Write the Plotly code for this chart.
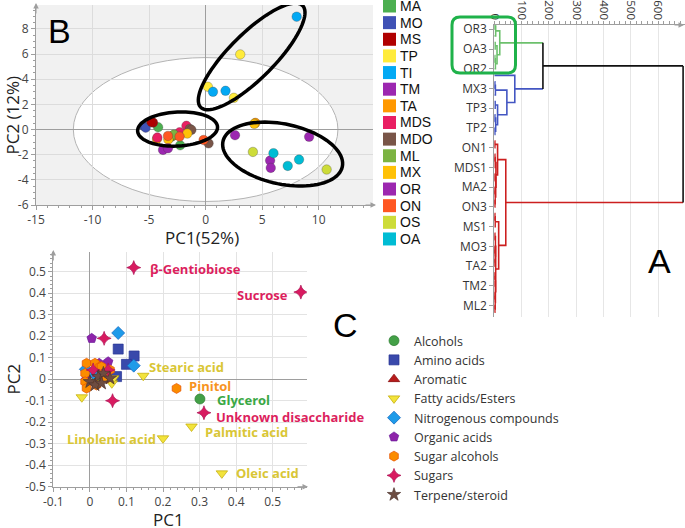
import numpy as np
import plotly.graph_objects as go

W, H = 685, 528

# ---------------- Panel B: PCA scores ----------------
b_groups = ["MA", "MO", "MS", "TP", "TI", "TM", "TA", "MDS", "MDO", "ML", "MX", "OR", "ON", "OS", "OA"]
b_colors = ["#4caf50", "#3f51b5", "#b00000", "#ffeb3b", "#03a9f4", "#9c27b0", "#ff9800", "#e91e63",
            "#795548", "#7cb342", "#ffc107", "#9c27b0", "#ff5722", "#cddc39", "#00bcd4"]
b_pc1 = [[-4.2, -2.25, -3.0], [-5.5, -5.3], [-4.65, -4.8], [3.06, 0.2, 2.5], [8.05, 0.65, 1.76],
         [5.7, 5.76, 2.6], [4.4, -2.9, -4.3], [-4.27, -2.3, -1.7], [-1.4, -1.26, 0.26], [-3.18, -2.8],
         [-1.62, 4.3, -3.3], [9.15, -3.77, -3.33], [-3.33, -2.3, -0.18], [4.18, 10.7], [6.0, 7.26, 8.26]]
b_pc2 = [[0.18, -1.25, -0.55], [0.3, 0.15], [0.55, 0.6], [5.97, 3.4, 2.52], [8.97, 3.0, 3.08],
         [-2.47, -3.05, -0.45], [0.53, -0.5, -0.75], [-0.64, -0.22, 0.3], [0.05, -0.03, -1.1], [-0.64, -0.4],
         [-0.32, 0.45, -0.8], [-0.58, -1.62, -1.49], [-0.51, -0.56, -0.83], [-1.78, -3.18], [-1.88, -2.89, -2.39]]
b_xticks = [-15, -10, -5, 0, 5, 10]
b_yticks = [-6, -4, -2, 0, 2, 4, 6, 8]

# ---------------- Panel C: PCA loadings ----------------
c_classes = ["Alcohols", "Amino acids", "Aromatic", "Fatty acids/Esters", "Nitrogenous compounds",
             "Organic acids", "Sugar alcohols", "Sugars", "Terpene/steroid"]
c_symbols = ["circle", "square", "triangle-up", "triangle-down", "diamond", "pentagon", "hexagon",
             "star-diamond", "star"]
c_colors = ["#43a047", "#3949ab", "#b71c1c", "#f2e33c", "#1e9be9", "#8e24aa", "#fb8c00", "#d81b60", "#6d4c41"]
c_lines = ["#2e7d32", "#283593", "#7f0000", "#c0a800", "#1565c0", "#6a1b9a", "#e65100", "#ad1457", "#4e342e"]
c_pc1 = [
    [0.301, 0.02, 0.035],
    [0.0775, 0.121, 0.10, 0.073, 0.03],
    [0.01, 0.04],
    [0.146, 0.2, 0.278, 0.361, -0.022, 0.06, 0.064],
    [0.0775, 0.12, -0.011, 0.01],
    [0.005, 0.05, 0.0255, -0.011],
    [0.237, -0.009, 0.014, 0.028, -0.013, -0.013, -0.009, 0.046, 0.055, 0.032, 0.018],
    [0.12, 0.577, 0.312, 0.039, 0.062, 0.009, 0.05],
    [0.0, 0.023, 0.037, 0.055, 0.014, 0.032],
]
c_pc2 = [
    [-0.092, 0.0, 0.03],
    [0.14, 0.108, 0.069, 0.012, 0.04],
    [0.02, 0.0],
    [0.016, -0.275, -0.22, -0.438, -0.084, -0.019, 0.004],
    [0.215, 0.063, 0.046, 0.03],
    [0.19, 0.081, 0.074, -0.004],
    [-0.043, 0.074, 0.074, 0.058, 0.027, -0.012, -0.042, 0.004, 0.043, 0.058, -0.027],
    [0.519, 0.405, -0.156, 0.19, -0.10, 0.043, 0.043],
    [-0.012, 0.012, 0.027, 0.004, -0.027, -0.019],
]
# labelled loadings: (text, class index, point index)
c_label_text = ["β-Gentiobiose", "Sucrose", "Stearic acid", "Pinitol", "Glycerol",
                "Unknown disaccharide", "Palmitic acid", "Linolenic acid", "Oleic acid"]
c_label_class = [7, 7, 3, 6, 0, 7, 3, 3, 3]
c_label_point = [0, 1, 0, 0, 0, 2, 2, 1, 3]
c_xticks = [-0.1, 0, 0.1, 0.2, 0.3, 0.4, 0.5]
c_yticks = [-0.5, -0.4, -0.3, -0.2, -0.1, 0, 0.1, 0.2, 0.3, 0.4, 0.5]

# ---------------- Panel A: dendrogram ----------------
leaf_labels = ["OR3", "OA3", "OR2", "MX3", "TP3", "TP2", "ON1", "MDS1", "MA2", "ON3",
               "MS1", "MO3", "TA2", "TM2", "ML2"]
# nested merges: (height, left, right); ints are leaf positions
green_tree = (20, (5, (2, 0, 1), 2), (10, (3, 3, 4), (4, (2, 5, 6), 7)))
blue_tree = (75, 8, (46, (4, (2, 9, 10), 11), (12, (3, 12, 13), (5, (2, 14, 15), (2, 16, 17)))))
red_tree = (42,
            (12, (2, 18, 19), (6, (3, (2, 20, 21), 22), (5, (2, 23, 24), (3, (2, 25, 26), (2, 27, 28))))),
            (16, (3, (2, 29, 30), 31),
             (5, (4, (2, 32, 33), (3, (2, 34, 35), (2, 36, 37))),
              (4, (3, (2, 38, 39), 40), (3, (2, 41, 42), (2, 43, 44))))))
top_heights = [178, 691]
dendro_ticks = [0, 100, 200, 300, 400, 500, 600]

# =====================================================
fig = go.Figure()

TICKFONT = dict(family="Open Sans", size=12, color="#444")
GRAY = "#9e9e9e"

def px_x(p):
    return p / W

def px_y(p):
    return 1 - p / H

# ---- B geometry
bx0, bx1, by0, by1 = 36, 373, 5, 205
b_xr = [-15, 14.8]
b_yr = [-6, 9.9]
sx = (bx1 - bx0) / (b_xr[1] - b_xr[0])
sy = (by1 - by0) / (b_yr[1] - b_yr[0])

for g, col, xs, ys in zip(b_groups, b_colors, b_pc1, b_pc2):
    fig.add_trace(go.Scatter(x=xs, y=ys, mode="markers", name=g, showlegend=False,
                             marker=dict(size=9.5, color=col, line=dict(width=0.6, color="rgba(60,60,60,0.5)")),
                             xaxis="x", yaxis="y"))

# ---- C
for i, cls in enumerate(c_classes):
    fig.add_trace(go.Scatter(x=c_pc1[i], y=c_pc2[i], mode="markers", name=cls,
                             marker=dict(size=10, symbol=c_symbols[i], color=c_colors[i],
                                         line=dict(width=0.7, color=c_lines[i])),
                             xaxis="x2", yaxis="y2", legend="legend"))

# ---- A dendrogram
def walk(node, xs, ys):
    if isinstance(node, int):
        return float(node), 0.0
    h, a, b = node
    pa, ha = walk(a, xs, ys)
    pb, hb = walk(b, xs, ys)
    xs += [ha, h, h, hb, None]
    ys += [pa, pa, pb, pb, None]
    return (pa + pb) / 2, h

segs = {}
ends = {}
for key, tree in (("green", green_tree), ("blue", blue_tree), ("red", red_tree)):
    xs, ys = [], []
    ends[key] = walk(tree, xs, ys)
    segs[key] = [xs, ys]
h1, h2 = top_heights
pg, hg = ends["green"]
pbl, hbl = ends["blue"]
pr, hr = ends["red"]
segs["green"][0] += [hg, h1, None]; segs["green"][1] += [pg, pg, None]
segs["blue"][0] += [hbl, h1, None]; segs["blue"][1] += [pbl, pbl, None]
pk = (pg + pbl) / 2
segs["red"][0] += [hr, h2, None]; segs["red"][1] += [pr, pr, None]
segs["black"] = [[h1, h1, None, h1, h2, None, h2, h2], [pg, pbl, None, pk, pk, None, pk, pr]]
dcol = {"green": "#6cc06c", "blue": "#4356c2", "red": "#cc1f1f", "black": "#111111"}
for key in ("green", "blue", "red", "black"):
    fig.add_trace(go.Scatter(x=segs[key][0], y=segs[key][1], mode="lines", showlegend=False,
                             line=dict(color=dcol[key], width=1.6), hoverinfo="skip",
                             xaxis="x3", yaxis="y3", cliponaxis=False))

# =====================================================
shapes = []
annotations = []

# B background and ellipses
shapes.append(dict(type="rect", xref="x", yref="y", x0=b_xr[0], x1=b_xr[1], y0=b_yr[0], y1=b_yr[1],
                   fillcolor="#f1f1f1", line=dict(width=0), layer="below"))
shapes.append(dict(type="circle", xref="x", yref="y", x0=-11.7, x1=11.7, y0=-5.72, y1=5.72,
                   fillcolor="white", line=dict(color="#b4b4b4", width=1), layer="below"))

def ellipse_path(cx, cy, a_px, b_px, ang_deg, n=90):
    t = np.linspace(0, 2 * np.pi, n)
    th = np.radians(ang_deg)
    dx = a_px * np.cos(t) * np.cos(th) - b_px * np.sin(t) * np.sin(th)
    dy = a_px * np.cos(t) * np.sin(th) + b_px * np.sin(t) * np.cos(th)
    xs = cx + dx / sx
    ys = cy + dy / sy
    return "M " + " L ".join(f"{x:.4f},{y:.4f}" for x, y in zip(xs, ys)) + " Z"

for cx, cy, a, b, ang in ((4.07, 5.81, 72, 22.5, 45), (-2.48, 0.04, 40, 17, 3), (6.81, -1.95, 61, 30, -12)):
    shapes.append(dict(type="path", xref="x", yref="y", path=ellipse_path(cx, cy, a, b, ang),
                       line=dict(color="black", width=3.5), layer="above"))

# B manual legend
leg_y0, leg_dy = 6.0, 16.64
for i, (g, col) in enumerate(zip(b_groups, b_colors)):
    yc = leg_y0 + i * leg_dy
    shapes.append(dict(type="rect", xref="paper", yref="paper", x0=px_x(383), x1=px_x(396),
                       y0=px_y(yc + 6.5), y1=px_y(yc - 6.5), fillcolor=col, line=dict(width=0)))
    annotations.append(dict(text=g, xref="paper", yref="paper", x=px_x(398), y=px_y(yc),
                            xanchor="left", yanchor="middle", showarrow=False,
                            font=dict(family="Liberation Sans", size=14, color="#111")))

# green rounded box in A
def rounded_rect(x0, y0, x1, y1, r):
    d = f"M {px_x(x0 + r)},{px_y(y0)} L {px_x(x1 - r)},{px_y(y0)} Q {px_x(x1)},{px_y(y0)} {px_x(x1)},{px_y(y0 + r)} "
    d += f"L {px_x(x1)},{px_y(y1 - r)} Q {px_x(x1)},{px_y(y1)} {px_x(x1 - r)},{px_y(y1)} "
    d += f"L {px_x(x0 + r)},{px_y(y1)} Q {px_x(x0)},{px_y(y1)} {px_x(x0)},{px_y(y1 - r)} "
    d += f"L {px_x(x0)},{px_y(y0 + r)} Q {px_x(x0)},{px_y(y0)} {px_x(x0 + r)},{px_y(y0)} Z"
    return d

shapes.append(dict(type="path", xref="paper", yref="paper", path=rounded_rect(452, 17, 515.5, 73, 8),
                   line=dict(color="#1fb24a", width=3)))

# C labels
lab_shift = [(15, -1, "left"), (-12, -3, "right"), (5, 9, "left"), (11, 2, "left"), (16, -1, "left"),
             (11, -4, "left"), (12, -5, "left"), (-6, -1, "right"), (13, 0, "left")]
for txt, ci, pi, (xs_, ys_, anc) in zip(c_label_text, c_label_class, c_label_point, lab_shift):
    col = {7: "#dc1f5e", 3: "#d9c636", 6: "#f7931e", 0: "#3aa845"}[ci]
    annotations.append(dict(text=f"<b>{txt}</b>", xref="x2", yref="y2", x=c_pc1[ci][pi], y=c_pc2[ci][pi],
                            xanchor=anc, yanchor="middle", xshift=xs_, yshift=ys_, showarrow=False,
                            borderpad=0, font=dict(family="Open Sans", size=13, color=col)))

# panel letters
for letter, x, y in (("B", 46, 31), ("C", 331, 325), ("A", 646, 261)):
    annotations.append(dict(text=letter, xref="paper", yref="paper", x=px_x(x), y=px_y(y),
                            xanchor="left", yanchor="middle", showarrow=False,
                            font=dict(family="Liberation Sans", size=34, color="black")))

# axis titles
TITLEFONT = dict(family="Open Sans", size=17, color="#222")
annotations += [
    dict(text="PC1(52%)", xref="paper", yref="paper", x=px_x(202), y=px_y(237), showarrow=False,
         xanchor="center", yanchor="middle", font=TITLEFONT, borderpad=0),
    dict(text="PC2 (12%)", xref="paper", yref="paper", x=px_x(0), y=px_y(115), showarrow=False,
         xanchor="left", yanchor="middle", textangle=-90, font=TITLEFONT, borderpad=0),
    dict(text="PC1", xref="paper", yref="paper", x=px_x(168), y=px_y(519), showarrow=False,
         xanchor="center", yanchor="middle", font=TITLEFONT, borderpad=0),
    dict(text="PC2", xref="paper", yref="paper", x=px_x(0), y=px_y(379), showarrow=False,
         xanchor="left", yanchor="middle", textangle=-90, font=TITLEFONT, borderpad=0),
]

# axis arrows
def arrow(x, y, ax, ay):
    return dict(x=px_x(x), y=px_y(y), xref="paper", yref="paper", ax=ax, ay=ay, text="",
                showarrow=True, arrowhead=2, arrowsize=1.1, arrowwidth=1, arrowcolor=GRAY)

annotations += [arrow(bx0, by0 - 2, 0, 12), arrow(bx1 + 3, by1, -12, 0),
                arrow(53.3, 250, 0, 12), arrow(308, 486.7, -12, 0),
                arrow(685, 25, -12, 0)]

# =====================================================
base_axis = dict(showline=True, linecolor=GRAY, linewidth=1, ticks="outside", tickcolor=GRAY,
                 ticklen=4, tickfont=TICKFONT, zeroline=True, zerolinecolor=GRAY, zerolinewidth=1,
                 automargin=False)

fig.update_layout(
    width=W, height=H, autosize=False,
    margin=dict(l=0, r=0, t=0, b=0, pad=0),
    paper_bgcolor="white", plot_bgcolor="rgba(0,0,0,0)",
    xaxis=dict(domain=[px_x(bx0), px_x(bx1)], range=b_xr, anchor="y",
               tickvals=b_xticks, ticktext=[str(v) for v in b_xticks], showgrid=True, gridcolor="#dcdcdc",
               minor=dict(ticks="outside", ticklen=2, dtick=1, tickcolor=GRAY, showgrid=False), **base_axis),
    yaxis=dict(domain=[px_y(by1), px_y(by0)], range=b_yr, anchor="x",
               tickvals=b_yticks, ticktext=[str(v) for v in b_yticks], showgrid=True, gridcolor="#dcdcdc",
               minor=dict(ticks="outside", ticklen=2, dtick=0.5, tickcolor=GRAY, showgrid=False), **base_axis),
    xaxis2=dict(domain=[px_x(53.3), px_x(306.7)], range=[-0.1, 0.593], anchor="y2",
                tickvals=c_xticks, ticktext=[f"{v:g}" for v in c_xticks], showgrid=True, gridcolor="#e3e3e3",
                minor=dict(ticks="outside", ticklen=2, dtick=0.02, tickcolor=GRAY, showgrid=False), **base_axis),
    yaxis2=dict(domain=[px_y(486.7), px_y(251.7)], range=[-0.5, 0.593], anchor="x2",
                tickvals=c_yticks, ticktext=[f"{v:g}" for v in c_yticks], showgrid=True, gridcolor="#e3e3e3",
                minor=dict(ticks="outside", ticklen=2, dtick=0.02, tickcolor=GRAY, showgrid=False), **base_axis),
    xaxis3=dict(domain=[px_x(494.3), 1.0], range=[0, 698], anchor="y3", side="top",
                tickvals=dendro_ticks, ticktext=[str(v) for v in dendro_ticks], tickangle=90,
                showgrid=True, gridcolor="#e6e6e6", showline=True, linecolor=GRAY, ticks="",
                minor=dict(ticks="outside", ticklen=3, dtick=20, tickcolor=GRAY, showgrid=False),
                tickfont=dict(family="Open Sans", size=11.5, color="#333"), zeroline=False, automargin=False),
    yaxis3=dict(domain=[px_y(317), px_y(25)], range=[44.73, 0.35], anchor="x3",
                tickvals=[3 * i + 1 for i in range(len(leaf_labels))], ticktext=leaf_labels,
                showgrid=False, showline=True, linecolor=GRAY, ticks="outside", ticklen=4, tickcolor=GRAY,
                tickfont=dict(family="Open Sans", size=12, color="#333"), zeroline=False, automargin=False),
    legend=dict(x=px_x(374), y=px_y(326), xanchor="left", yanchor="top", bgcolor="rgba(0,0,0,0)",
                font=dict(family="Open Sans", size=12.5, color="#333"), itemwidth=30, tracegroupgap=0),
    shapes=shapes, annotations=annotations, showlegend=True,
)

fig.write_html("out.html", config={"displayModeBar": False},
               post_script="document.body.style.margin='0px';")
